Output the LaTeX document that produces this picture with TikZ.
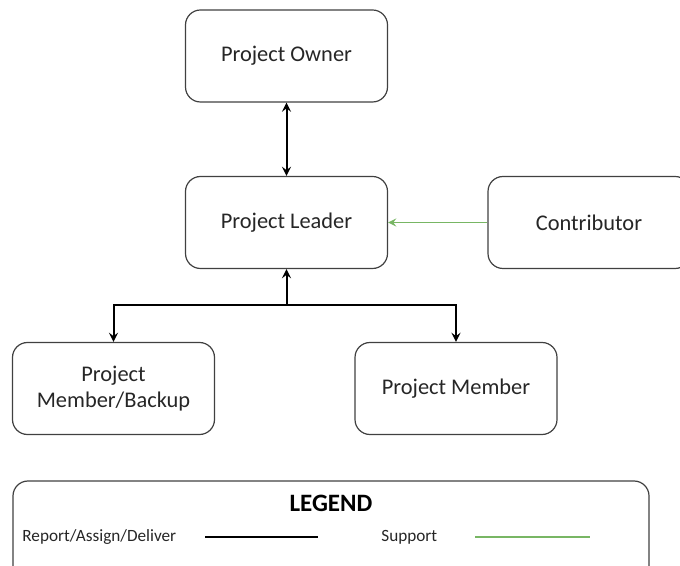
\documentclass[tikz,border=0pt]{standalone}
\usepackage{fontspec}
\setmainfont{Carlito}
\usetikzlibrary{arrows}

\definecolor{supportgreen}{RGB}{120,182,100}
\definecolor{boxgray}{RGB}{64,64,64}
\definecolor{textgray}{RGB}{38,38,38}

\begin{document}
\begin{tikzpicture}[x=0.5pt,y=-0.5pt,text=textgray]
    \tikzstyle{arrow} = [line width=1pt,->,>=stealth,draw=black]
    \tikzstyle{support} = [line width=0.8pt,->,>=stealth,draw=supportgreen]
    \tikzstyle{rolebox} = [rectangle, rounded corners=7.5pt, minimum width=101pt, minimum height=46pt, text centered, align=center, draw=boxgray, line width=0.6pt, font=\fontsize{11.2}{13}\selectfont]
    \tikzstyle{legendtext} = [font=\fontsize{8.6}{10}\selectfont, inner sep=0pt]
    \clip (0,0) rectangle (680,566);
    % role boxes
    \node (owner) [rolebox] at (286.5,56) {Project Owner};
    \node (leader) [rolebox] at (286.5,222.5) {Project Leader};
    \node (contrib) [rolebox] at (589,222.5) {Contributor};
    \node (backup) [rolebox] at (113.5,388.5) {Project\\Member/Backup};
    \node (member) [rolebox] at (456,388.5) {Project Member};
    \coordinate (split) at (286.5,305.5);
    % connectors
    \draw [arrow,<->] (owner) -- (leader);
    \draw [support] (contrib) -- (leader);
    \draw [arrow] (split) -- (leader);
    \draw [arrow] (split) -| (backup);
    \draw [arrow] (split) -| (member);
    % legend
    \draw [draw=boxgray, line width=0.6pt, rounded corners=7.5pt] (13,481) rectangle (649,600);
    \node (legend) [font=\fontsize{12.5}{14}\selectfont\bfseries, text=black] at (331,503) {LEGEND};
    \node (report) [legendtext, anchor=west] at (22,537) {Report/Assign/Deliver};
    \node (support) [legendtext, anchor=west] at (381,537) {Support};
    \coordinate (rl-a) at (205,537);
    \coordinate (rl-b) at (318,537);
    \coordinate (sl-a) at (475,537);
    \coordinate (sl-b) at (590,537);
    \draw [line width=1pt, draw=black] (rl-a) -- (rl-b);
    \draw [line width=0.8pt, draw=supportgreen] (sl-a) -- (sl-b);
\end{tikzpicture}
\end{document}
